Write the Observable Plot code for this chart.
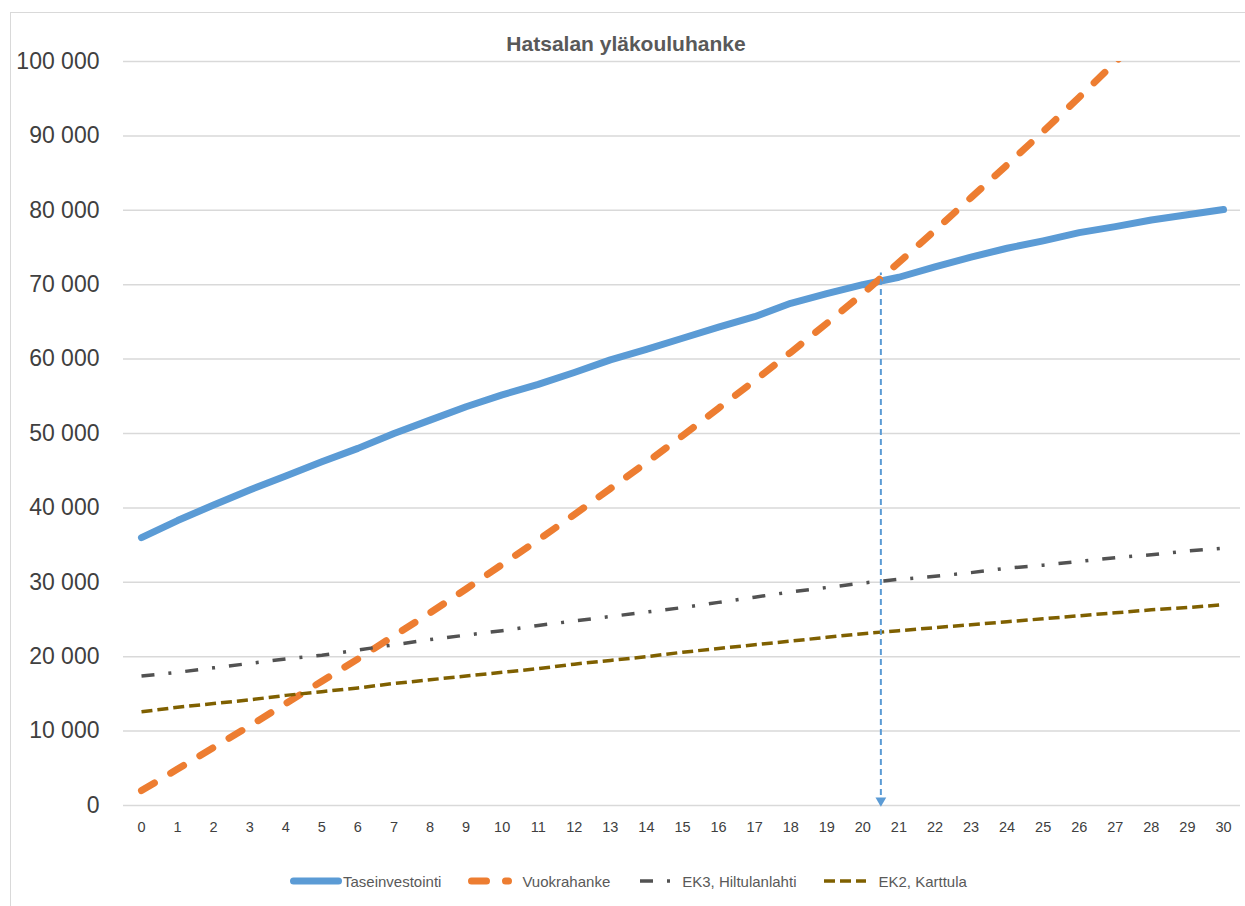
<!DOCTYPE html>
<html>
<head>
<meta charset="utf-8">
<script src="https://cdn.jsdelivr.net/npm/d3@7"></script>
<script src="https://cdn.jsdelivr.net/npm/@observablehq/plot@0.6"></script>
<style>
  body { margin: 0; background: #fff; font-family: "Liberation Sans", Arial, sans-serif; }
  #wrap { position: relative; width: 1245px; height: 906px; overflow: hidden; background: #fff; }
  #frame { position: absolute; left: 10px; top: 12px; width: 1260px; height: 920px; border: 1.5px solid #d9d9d9; box-sizing: border-box; }
  #title { position: absolute; left: 0; width: 1252px; top: 31px; text-align: center; font-weight: bold; font-size: 21px; color: #595959; line-height: 26px; }
  #chart { position: absolute; left: 0; top: 0; }
  #chart svg { overflow: visible; }
  g[aria-label="y-axis tick label"] { font-size: 23px; }
  g[aria-label="x-axis tick label"] { font-size: 14.5px; }
  #legend { position: absolute; top: 869px; left: 290px; height: 24px; display: flex; align-items: center; font-size: 15px; color: #595959; white-space: nowrap; }
  .item { display: flex; align-items: center; }
  .item svg { display: block; }
</style>
</head>
<body>
<div id="wrap">
  <div id="frame"></div>
  <div id="title">Hatsalan yläkouluhanke</div>
  <div id="chart"></div>
  <div id="legend"></div>
</div>
<script>
// ---- data ----
const years = [0,1,2,3,4,5,6,7,8,9,10,11,12,13,14,15,16,17,18,19,20,21,22,23,24,25,26,27,28,29,30];
const taseinvestointi = [36000,38300,40400,42400,44300,46200,48000,50000,51800,53600,55200,56600,58200,59900,61300,62800,64300,65700,67500,68800,70000,71000,72400,73700,74900,75900,77000,77800,78700,79400,80100];
const vuokrahanke = [2000,4900,7800,10700,13700,16700,19700,22800,25900,29100,32400,35700,39100,42600,46100,49700,53400,57100,60900,64800,68800,73000,77300,81700,86100,90600,95200,99900,104700,109600,114600];
const ek3 = [17400,17900,18500,19100,19700,20200,20900,21600,22300,22900,23500,24200,24800,25400,26000,26600,27300,28000,28700,29300,29900,30400,30800,31300,31900,32300,32800,33300,33700,34200,34600];
const ek2 = [12600,13200,13700,14200,14800,15300,15800,16400,16900,17400,17900,18400,19000,19500,20000,20600,21100,21600,22100,22600,23100,23500,23900,24300,24700,25100,25500,25900,26300,26600,27000];
const seriesNames = ["Taseinvestointi", "Vuokrahanke", "EK3, Hiltulanlahti", "EK2, Karttula"];
const yTicks = [0,10000,20000,30000,40000,50000,60000,70000,80000,90000,100000];
const breakEvenYear = 20.5;
const breakEvenValue = 70500;

// ---- styles ----
const styles = [
  {color: "#5b9bd5", width: 7,   dash: null,          cap: "round"},
  {color: "#ed7d31", width: 7,   dash: "15,19",       cap: "round"},
  {color: "#525252", width: 3.5, dash: "13,14,3,14",  cap: "butt"},
  {color: "#7f6000", width: 3.5, dash: "11,5",        cap: "butt"}
];
const seriesValues = [taseinvestointi, vuokrahanke, ek3, ek2];

const rows = [];
seriesNames.forEach((name, i) => {
  years.forEach((yr, j) => rows.push({series: name, year: yr, value: seriesValues[i][j]}));
});

const fmt = d => d3.format(",")(d).replace(/,/g, " ");

const lineMarks = seriesNames.map((name, i) => Plot.line(rows.filter(r => r.series === name), {
  x: "year", y: "value",
  stroke: styles[i].color, strokeWidth: styles[i].width,
  strokeDasharray: styles[i].dash || undefined,
  strokeLinecap: styles[i].cap, strokeLinejoin: "round",
  clip: true
}));

const chart = Plot.plot({
  width: 1245,
  height: 850,
  marginTop: 61,
  marginBottom: 45,
  marginLeft: 123,
  marginRight: 5,
  insetLeft: 18,
  insetRight: 17,
  style: {fontFamily: "'Liberation Sans', Arial, sans-serif", color: "#404040", background: "transparent"},
  x: {domain: [0, 30], label: null},
  y: {domain: [0, 100000], label: null},
  marks: [
    Plot.gridY(yTicks, {stroke: "#d9d9d9", strokeOpacity: 1, strokeWidth: 1.5}),
    Plot.axisX(years, {tickSize: 0, tickPadding: 16, tickFormat: d => String(d), fontSize: 14.5, label: null}),
    Plot.axisY(yTicks, {tickSize: 0, tickPadding: 24, tickFormat: fmt, fontSize: 23, label: null}),
    ...lineMarks,
    Plot.ruleX([{x: breakEvenYear, y1: 0, y2: breakEvenValue}], {
      x: "x", y1: "y1", y2: "y2", stroke: "#5b9bd5", strokeWidth: 2, strokeDasharray: "6,4", insetBottom: 8
    }),
    Plot.dot([{x: breakEvenYear, y: 0}], {
      x: "x", y: "y", symbol: "triangle", r: 4, rotate: 180, fill: "#5b9bd5", stroke: "none", dy: -5
    })
  ]
});
document.getElementById("chart").appendChild(chart);

// ---- legend ----
const swatchW = [52, 44, 40, 42];
const gapAfterSwatch = [1, 10, 2, 12];
const itemGap = [27, 30, 28, 0];
const legend = document.getElementById("legend");
seriesNames.forEach((name, i) => {
  const s = styles[i];
  const item = document.createElement("div");
  item.className = "item";
  item.style.marginRight = itemGap[i] + "px";
  const w = swatchW[i];
  const pad = s.cap === "round" ? s.width / 2 : 0;
  item.innerHTML =
    `<svg width="${w}" height="12"><line x1="${pad}" x2="${w - pad}" y1="6" y2="6" stroke="${s.color}" stroke-width="${s.width}" stroke-linecap="${s.cap}" ${s.dash ? `stroke-dasharray="${s.dash}"` : ""}/></svg>` +
    `<span style="margin-left:${gapAfterSwatch[i]}px">${name}</span>`;
  legend.appendChild(item);
});
</script>
</body>
</html>
